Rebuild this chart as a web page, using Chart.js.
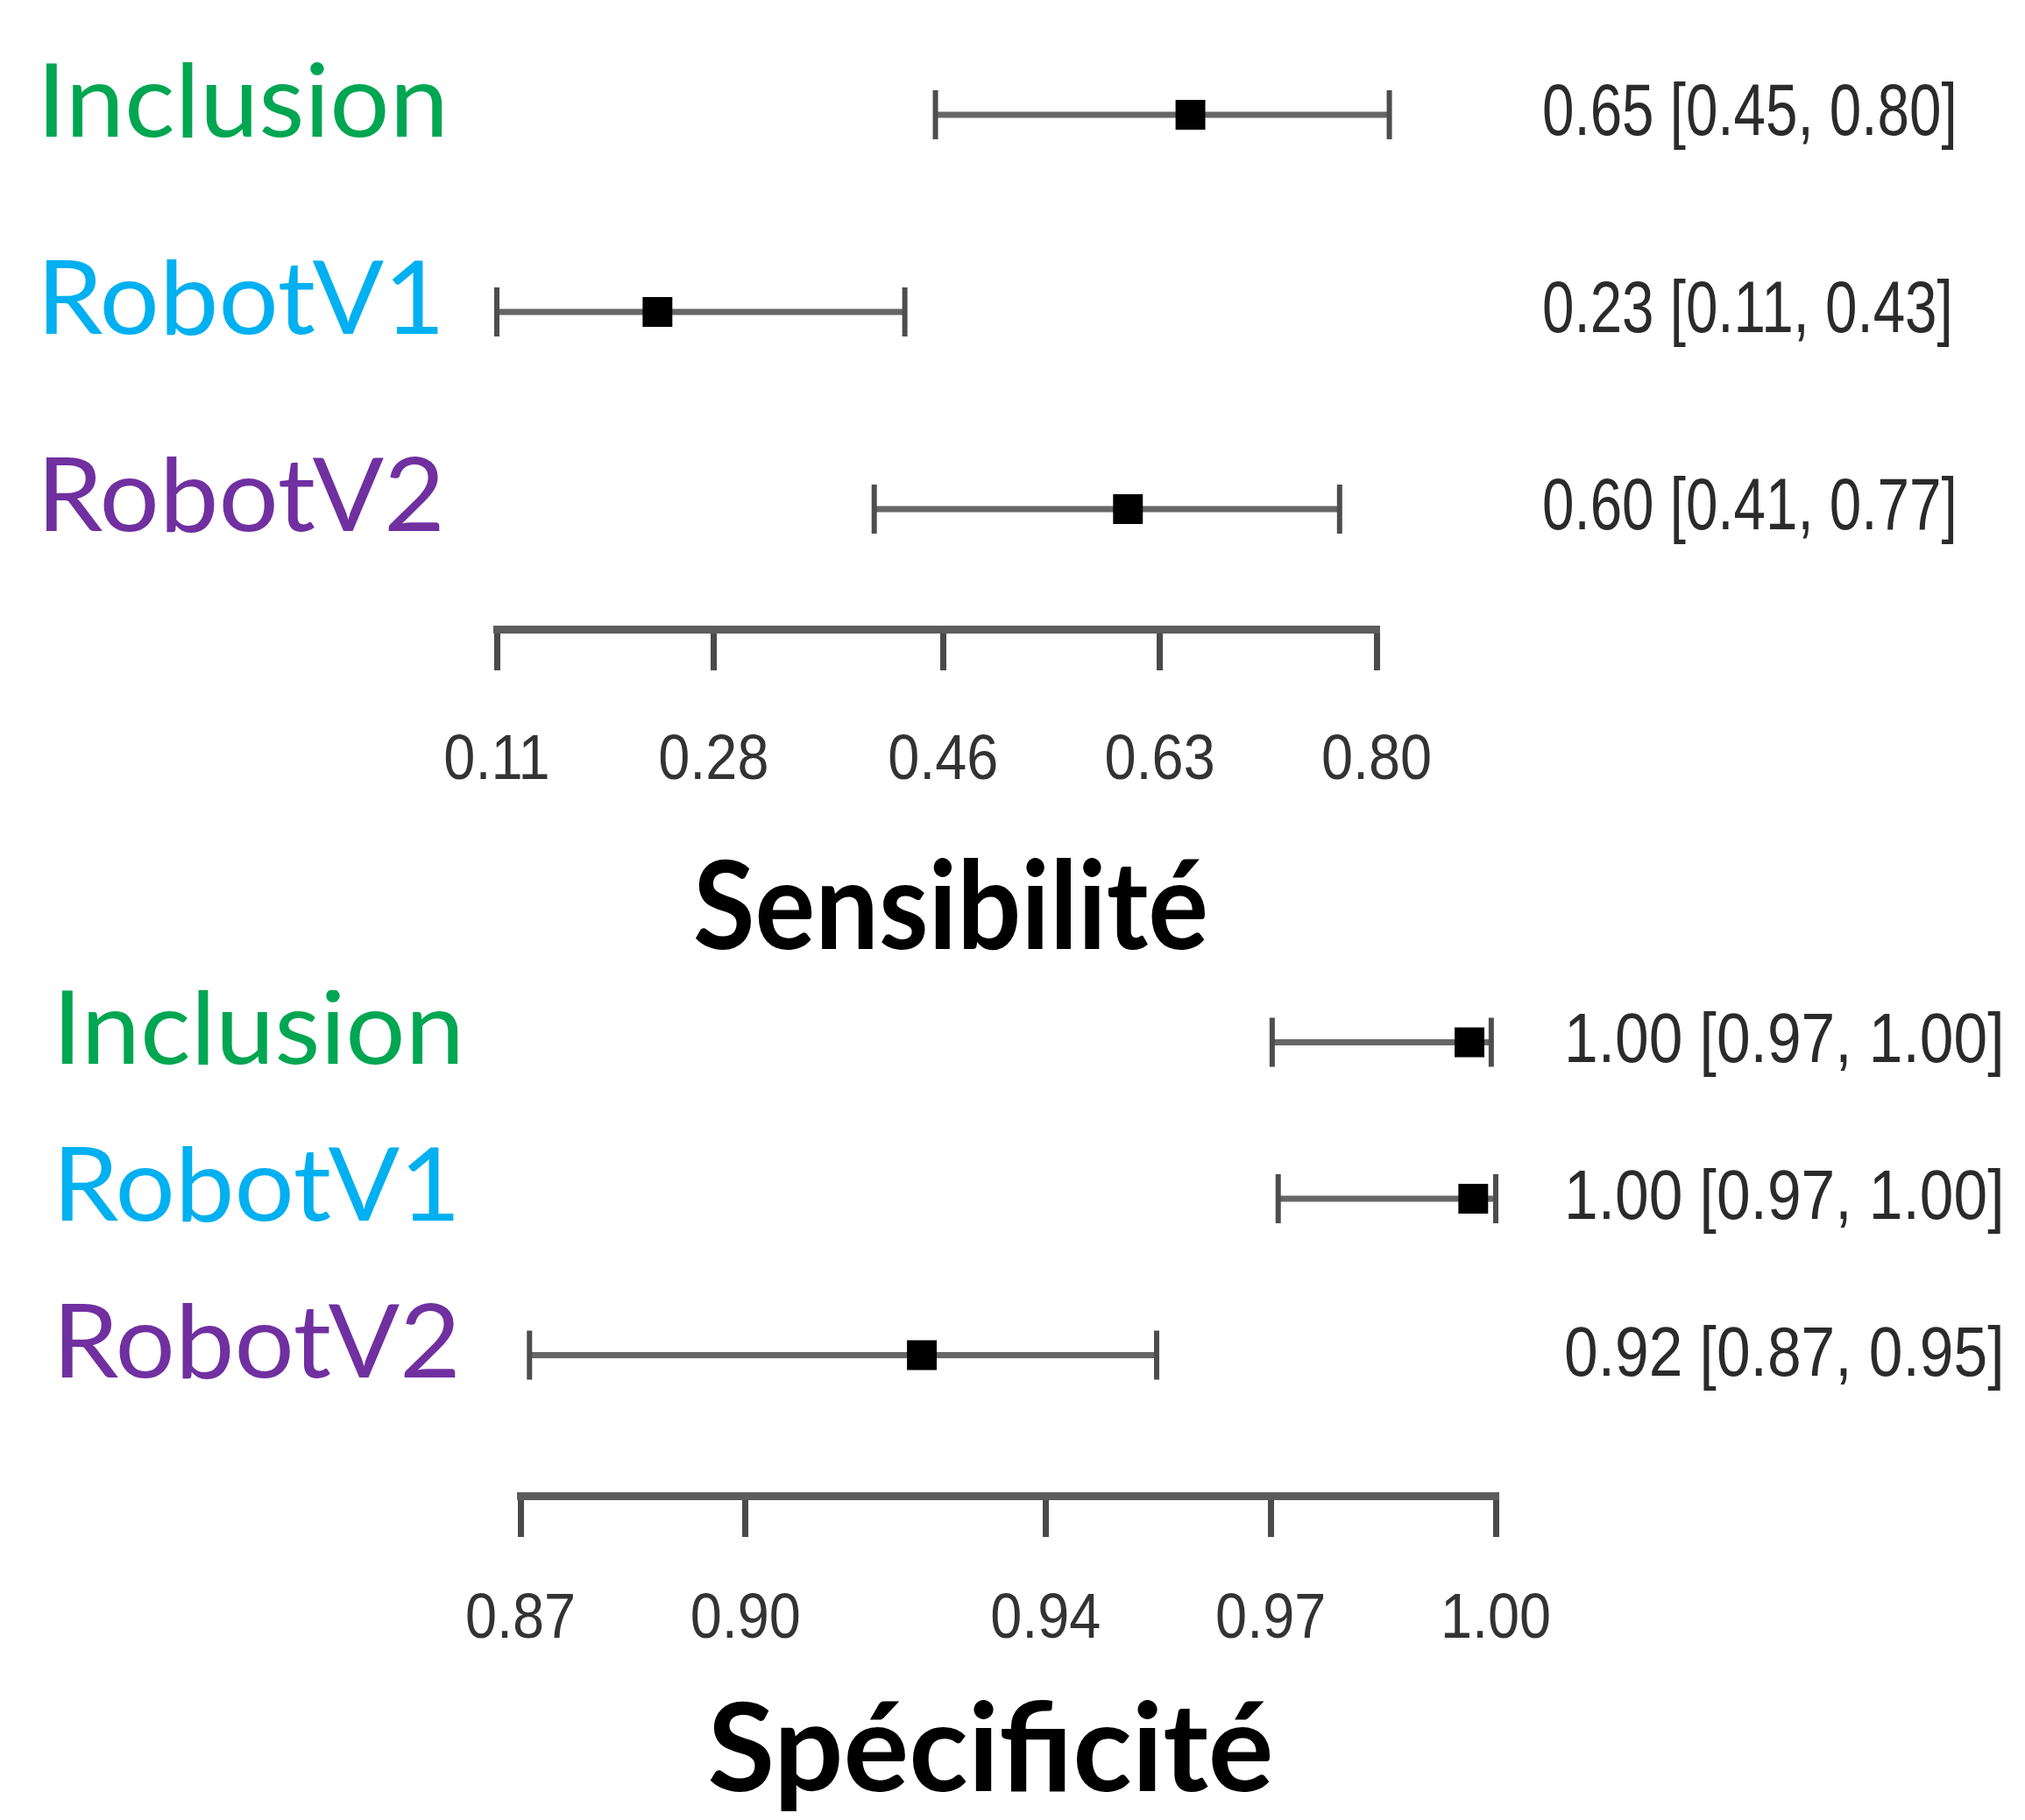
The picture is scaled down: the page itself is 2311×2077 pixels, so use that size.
<!DOCTYPE html>
<html>
<head>
<meta charset="utf-8">
<title>Sensibilité / Spécificité</title>
<script src="https://cdn.jsdelivr.net/npm/chart.js@4.4.1/dist/chart.umd.min.js"></script>
<style>
  html, body { margin: 0; padding: 0; background: #fff; }
  #wrap { width: 2311px; height: 2077px; }
  canvas { display: block; }
</style>
</head>
<body>
<div id="wrap">
  <canvas id="sensChart" width="2311" height="1130"></canvas>
  <canvas id="specChart" width="2311" height="947"></canvas>
</div>
<script>
const categories = ['Inclusion', 'RobotV1', 'RobotV2'];
const categoryColors = ['#00a651', '#00b0f0', '#7030a0'];

// Sensibilité
const sensEstimate = [0.654, 0.236, 0.605];
const sensLower = [0.454, 0.110, 0.406];
const sensUpper = [0.810, 0.430, 0.771];
const sensText = ['0.65 [0.45, 0.80]', '0.23 [0.11, 0.43]', '0.60 [0.41, 0.77]'];
const sensTicks = [0.11, 0.28, 0.46, 0.63, 0.80];
const sensTickLabels = ['0.11', '0.28', '0.46', '0.63', '0.80'];

// Spécificité
const specEstimate = [0.9965, 0.997, 0.9235];
const specLower = [0.9702, 0.971, 0.8712];
const specUpper = [0.9994, 1.00, 0.9548];
const specText = ['1.00 [0.97, 1.00]', '1.00 [0.97, 1.00]', '0.92 [0.87, 0.95]'];
const specTicks = [0.87, 0.90, 0.94, 0.97, 1.00];
const specTickLabels = ['0.87', '0.90', '0.94', '0.97', '1.00'];

// draw a text squeezed horizontally (the source uses narrow fonts)
function drawText(ctx, text, x, y, font, color, scaleX, align) {
    ctx.save();
    ctx.font = font;
    ctx.fillStyle = color;
    ctx.textAlign = 'left';
    ctx.textBaseline = 'alphabetic';
    const w = ctx.measureText(text).width * scaleX;
    const left = align === 'center' ? x - w / 2 : x;
    ctx.translate(left, y);
    ctx.scale(scaleX, 1);
    ctx.fillText(text, 0, 0);
    ctx.restore();
}

const forestText = {
    id: 'forestText',
    afterDraw(chart, args, opts) {
        const ctx = chart.ctx;
        const xs = chart.scales.x;
        const ys = chart.scales.y;
        const area = chart.chartArea;

        categories.forEach((name, i) => {
            const y = ys.getPixelForValue(i);
            drawText(ctx, name, opts.nameX, y + 25, '117px Lato', categoryColors[i], 1.03, 'left');
            drawText(ctx, opts.values[i], opts.valueX, y + 23, opts.valueFont, '#2b2b2b', opts.valueScale, 'left');
        });

        opts.ticks.forEach((t, i) => {
            drawText(ctx, opts.tickLabels[i], xs.getPixelForValue(t), xs.top + opts.tickY,
                '72px "Liberation Sans", Arial', '#333', 0.9, 'center');
        });

        drawText(ctx, opts.title, (area.left + area.right) / 2 + opts.titleShift, xs.top + opts.titleY,
            'bold 140px Lato', '#000', opts.titleScale, 'center');
    }
};

function buildDatasets(est, lo, hi) {
    const sets = [{
        label: 'estimate',
        data: categories.map((c, i) => ({ x: est[i], y: i })),
        pointStyle: 'rect',
        pointRadius: 24,
        pointBackgroundColor: '#000',
        pointBorderWidth: 0,
        clip: false
    }];
    categories.forEach((c, i) => {
        sets.push({
            label: c,
            data: [{ x: lo[i], y: i }, { x: hi[i], y: i }],
            showLine: true,
            borderColor: '#666',
            borderWidth: 7,
            pointStyle: 'line',
            rotation: 90,
            pointRadius: 28,
            pointBorderWidth: 6,
            pointBorderColor: '#4d4d4d',
            clip: false
        });
    });
    return sets;
}

function makeChart(id, cfg) {
    return new Chart(document.getElementById(id), {
        type: 'scatter',
        data: { datasets: buildDatasets(cfg.est, cfg.lo, cfg.hi) },
        options: {
            responsive: false,
            animation: false,
            events: [],
            layout: {
                autoPadding: false,
                padding: { left: cfg.left, right: cfg.right, top: 0, bottom: 0 }
            },
            scales: {
                x: {
                    type: 'linear',
                    min: cfg.ticks[0],
                    max: cfg.ticks[cfg.ticks.length - 1],
                    afterBuildTicks: (axis) => { axis.ticks = cfg.ticks.map(v => ({ value: v })); },
                    afterFit: (axis) => {
                        axis.height = cfg.axisHeight;
                        axis.paddingLeft = 0;
                        axis.paddingRight = 0;
                    },
                    ticks: { display: false },
                    grid: {
                        drawOnChartArea: false,
                        drawTicks: true,
                        tickLength: 47,
                        tickWidth: 7,
                        lineWidth: 7,
                        tickColor: '#4a4a4a'
                    },
                    border: { display: true, width: 9, color: '#5c5c5c' }
                },
                y: {
                    type: 'linear',
                    display: false,
                    reverse: true,
                    min: cfg.yMin,
                    max: cfg.yMax
                }
            },
            plugins: {
                legend: { display: false },
                tooltip: { enabled: false },
                forestText: {
                    nameX: cfg.nameX,
                    valueX: cfg.valueX,
                    values: cfg.text,
                    valueFont: cfg.valueFont,
                    valueScale: cfg.valueScale,
                    ticks: cfg.ticks,
                    tickLabels: cfg.tickLabels,
                    tickY: cfg.tickY,
                    title: cfg.title,
                    titleY: cfg.titleY,
                    titleShift: cfg.titleShift,
                    titleScale: cfg.titleScale
                }
            }
        },
        plugins: [forestText]
    });
}

makeChart('sensChart', {
    est: sensEstimate, lo: sensLower, hi: sensUpper, text: sensText,
    ticks: sensTicks, tickLabels: sensTickLabels, title: 'Sensibilité',
    left: 567, right: 740, axisHeight: 412, yMin: -0.582, yMax: 2.609,
    nameX: 42, valueX: 1760, valueFont: '84px "Liberation Sans", Arial', valueScale: 0.78,
    tickY: 171, titleY: 365, titleShift: 16, titleScale: 0.92
});

makeChart('specChart', {
    est: specEstimate, lo: specLower, hi: specUpper, text: specText,
    ticks: specTicks, tickLabels: specTickLabels, title: 'Spécificité',
    left: 594, right: 604, axisHeight: 370, yMin: -0.333, yMax: 2.899,
    nameX: 60, valueX: 1785, valueFont: '79px "Liberation Sans", Arial', valueScale: 0.88,
    tickY: 162, titleY: 337, titleShift: -20, titleScale: 1.0
});
</script>
</body>
</html>
